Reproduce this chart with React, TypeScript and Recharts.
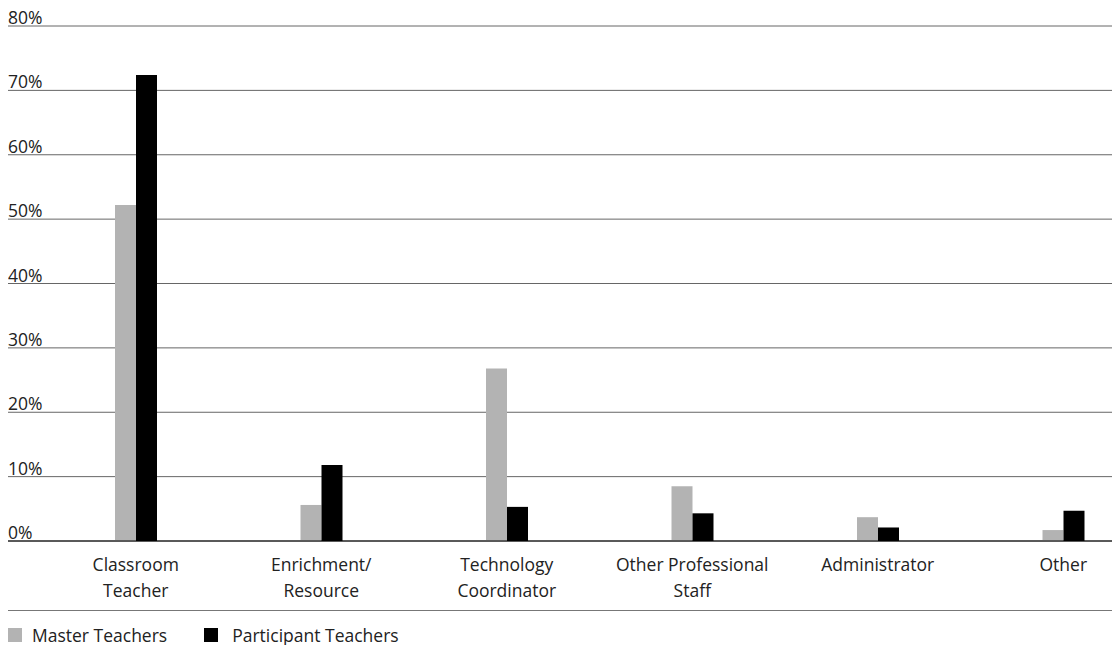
import React from "react";
import { Bar, BarChart, CartesianGrid, XAxis, YAxis } from "recharts";

const categories = [
  "Classroom\nTeacher",
  "Enrichment/\nResource",
  "Technology\nCoordinator",
  "Other Professional\nStaff",
  "Administrator",
  "Other",
];
const masterTeachers = [52.2, 5.6, 26.8, 8.5, 3.7, 1.7];
const participantTeachers = [72.4, 11.8, 5.3, 4.3, 2.1, 4.7];
const yTicks = [0, 10, 20, 30, 40, 50, 60, 70, 80];

const data = categories.map((name, i) => ({
  name,
  master: masterTeachers[i],
  participant: participantTeachers[i],
}));

const FONT = "'Open Sans', sans-serif";
const GRAY = "#b3b3b3";

function CategoryTick({ x, y, payload }: { x?: number; y?: number; payload?: { value: string } }) {
  const lines = String(payload?.value ?? "").split("\n");
  return (
    <text x={x} y={(y ?? 0) + 22} textAnchor="middle" fill="#222" fontSize={17.5} fontFamily={FONT}>
      {lines.map((line, i) => (
        <tspan key={i} x={x} dy={i === 0 ? 0 : 26}>
          {line}
        </tspan>
      ))}
    </text>
  );
}

function PercentTick({ y, payload }: { y?: number; payload?: { value: number } }) {
  return (
    <text x={0} y={(y ?? 0) - 2} textAnchor="start" fill="#222" fontSize={17.5} fontFamily={FONT}>
      {payload?.value}%
    </text>
  );
}

export default function App() {
  return (
    <div style={{ width: 1112, overflow: "hidden", fontFamily: FONT, marginTop: -8 }}>
      <BarChart
        width={1148}
        height={603}
        data={data}
        margin={{ top: 26, right: 0, left: 0, bottom: 0 }}
        barGap={0}
        barSize={21}
      >
        <CartesianGrid vertical={false} stroke="#666" />
        <XAxis
          dataKey="name"
          interval={0}
          height={62}
          padding={{ left: 35, right: 0 }}
          axisLine={{ stroke: "#000" }}
          tickLine={false}
          tick={<CategoryTick />}
        />
        <YAxis
          mirror
          width={40}
          domain={[0, 80]}
          ticks={yTicks}
          axisLine={false}
          tickLine={false}
          tick={<PercentTick />}
        />
        <Bar dataKey="master" name="Master Teachers" fill={GRAY} isAnimationActive={false} />
        <Bar dataKey="participant" name="Participant Teachers" fill="#000" isAnimationActive={false} />
      </BarChart>
      <div
        style={{
          marginTop: 7,
          borderTop: "1px solid #777",
          paddingTop: 12,
          display: "flex",
          alignItems: "center",
          fontSize: 17.5,
          color: "#222",
        }}
      >
        <span style={{ width: 14, height: 14, background: GRAY, display: "inline-block", marginRight: 10 }} />
        <span style={{ marginRight: 37 }}>Master Teachers</span>
        <span style={{ width: 14, height: 14, background: "#000", display: "inline-block", marginRight: 14 }} />
        <span>Participant Teachers</span>
      </div>
    </div>
  );
}
